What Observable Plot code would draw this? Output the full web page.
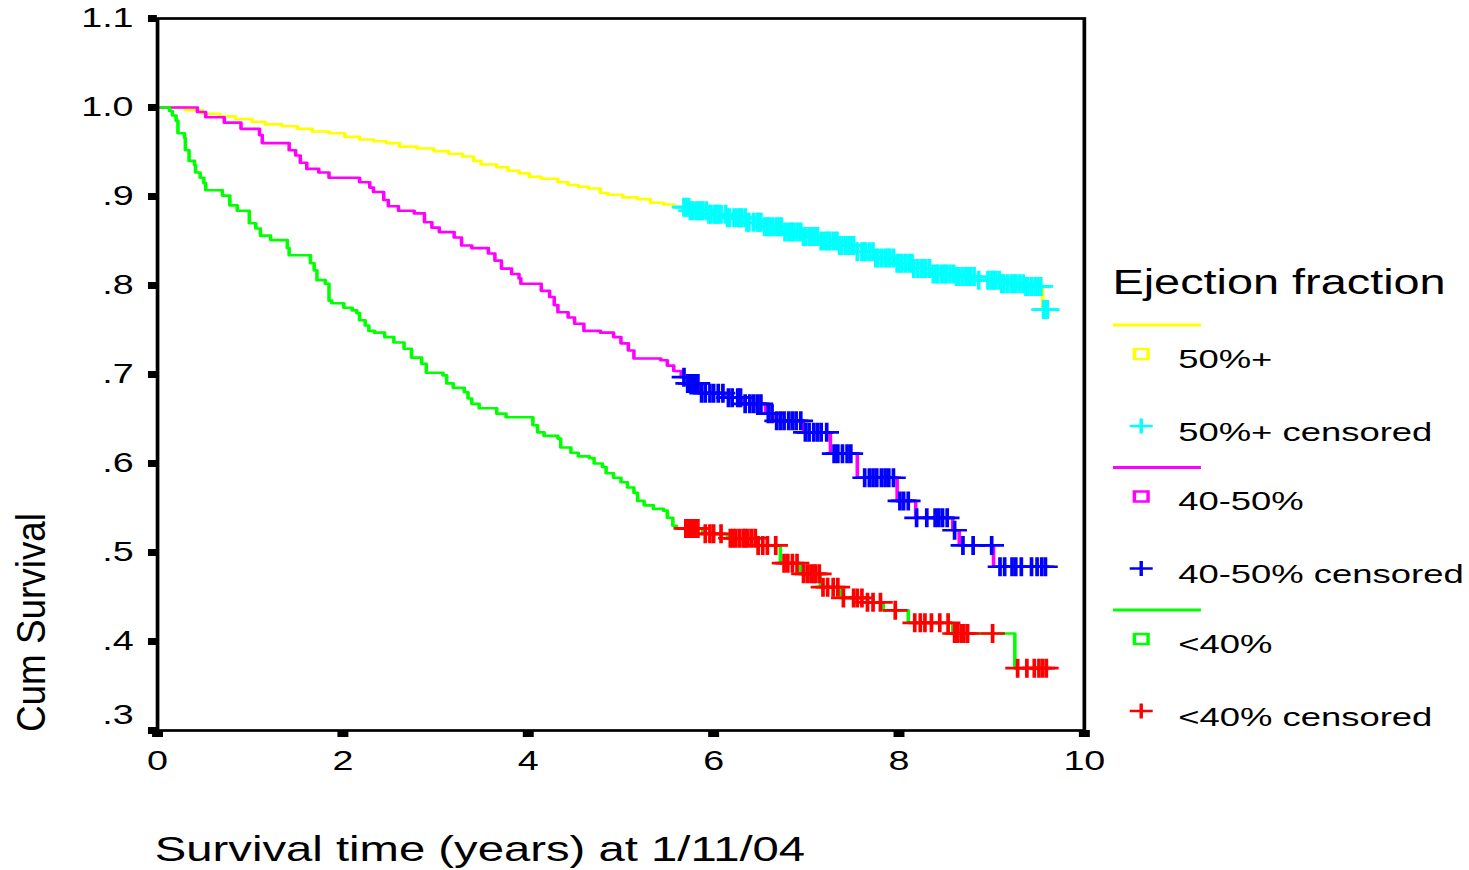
<!DOCTYPE html>
<html>
<head>
<meta charset="utf-8">
<script src="https://cdn.jsdelivr.net/npm/d3@7"></script>
<script src="https://cdn.jsdelivr.net/npm/@observablehq/plot@0.6"></script>
<style>
  html, body { margin: 0; padding: 0; background: #fff; }
  #chart { width: 1469px; height: 870px; overflow: hidden; }
  #chart svg { transform: scaleX(1.37); transform-origin: 0 0; display: block; }
</style>
</head>
<body>
<div id="chart"></div>
<script>
// ---------------- data ----------------
const groups = ["50%+", "40-50%", "<40%"];
const censLabels = ["50%+ censored", "40-50% censored", "<40% censored"];
const lineColors = ["#ffff00", "#ff00ff", "#00ff00"];
const censColors = ["#00ffff", "#0000ff", "#ff0000"];
const legendTitle = "Ejection fraction";
const xTitle = "Survival time (years) at 1/11/04";
const yTitle = "Cum Survival";

const xTicks = [0, 2, 4, 6, 8, 10];
const xTickLabels = ["0", "2", "4", "6", "8", "10"];
const yTicks = [1.1, 1.0, 0.9, 0.8, 0.7, 0.6, 0.5, 0.4, 0.3];
const yTickLabels = ["1.1", "1.0", ".9", ".8", ".7", ".6", ".5", ".4", ".3"];

// Kaplan-Meier step curves: [time (years), cumulative survival]
const curveHigh = [
  [0, 1.0], [0.30, 0.997], [0.48, 0.993], [0.67, 0.990], [0.84, 0.987], [1.02, 0.984],
  [1.16, 0.981], [1.34, 0.979], [1.51, 0.976], [1.67, 0.973], [1.85, 0.971], [2.02, 0.967],
  [2.18, 0.964], [2.33, 0.962], [2.47, 0.960], [2.61, 0.956], [2.80, 0.954], [2.98, 0.951],
  [3.14, 0.948], [3.29, 0.945], [3.41, 0.940], [3.49, 0.936], [3.66, 0.933], [3.78, 0.929],
  [3.90, 0.926], [4.01, 0.922], [4.14, 0.920], [4.32, 0.916], [4.43, 0.913], [4.54, 0.911],
  [4.65, 0.909], [4.78, 0.904], [4.86, 0.902], [5.02, 0.899], [5.18, 0.897], [5.32, 0.893],
  [5.46, 0.891], [5.57, 0.888], [5.75, 0.884], [5.95, 0.880], [6.15, 0.876], [6.35, 0.871],
  [6.55, 0.866], [6.75, 0.860], [6.95, 0.855], [7.15, 0.850], [7.35, 0.845], [7.55, 0.838],
  [7.75, 0.831], [7.95, 0.825], [8.15, 0.819], [8.35, 0.813], [8.60, 0.810], [8.85, 0.806],
  [9.10, 0.802], [9.35, 0.799], [9.55, 0.773], [9.60, 0.773]
];
const curveMid = [
  [0, 1.0], [0.43, 0.995], [0.52, 0.989], [0.72, 0.983], [0.90, 0.976], [1.10, 0.969],
  [1.13, 0.960], [1.42, 0.952], [1.49, 0.946], [1.54, 0.938], [1.61, 0.931], [1.74, 0.927],
  [1.85, 0.921], [2.18, 0.916], [2.29, 0.910], [2.33, 0.905], [2.44, 0.896], [2.49, 0.889],
  [2.60, 0.884], [2.77, 0.881], [2.88, 0.871], [2.96, 0.865], [3.04, 0.860], [3.20, 0.854],
  [3.28, 0.845], [3.39, 0.842], [3.57, 0.836], [3.64, 0.828], [3.71, 0.819], [3.82, 0.813],
  [3.90, 0.808], [3.92, 0.802], [4.14, 0.794], [4.23, 0.787], [4.28, 0.778], [4.32, 0.770],
  [4.43, 0.764], [4.50, 0.757], [4.60, 0.749], [4.78, 0.747], [4.92, 0.742], [5.00, 0.735],
  [5.08, 0.727], [5.14, 0.718], [5.43, 0.716], [5.50, 0.710], [5.57, 0.704], [5.65, 0.697],
  [5.72, 0.690], [5.86, 0.679], [6.12, 0.674], [6.32, 0.667], [6.56, 0.656], [6.65, 0.648],
  [6.97, 0.635], [7.26, 0.611], [7.55, 0.584], [7.98, 0.558], [8.18, 0.539], [8.58, 0.525],
  [8.65, 0.508], [9.02, 0.484], [9.60, 0.484]
];
const curveLow = [
  [0, 1.0], [0.13, 0.996], [0.16, 0.991], [0.20, 0.985], [0.22, 0.971], [0.29, 0.966],
  [0.30, 0.952], [0.34, 0.940], [0.40, 0.935], [0.41, 0.927], [0.46, 0.921], [0.50, 0.915],
  [0.52, 0.907], [0.70, 0.901], [0.78, 0.890], [0.86, 0.884], [0.99, 0.870], [1.06, 0.864],
  [1.11, 0.856], [1.22, 0.851], [1.40, 0.842], [1.42, 0.834], [1.65, 0.825], [1.69, 0.817],
  [1.72, 0.806], [1.81, 0.802], [1.85, 0.783], [1.88, 0.780], [2.01, 0.775], [2.10, 0.772],
  [2.15, 0.769], [2.18, 0.761], [2.24, 0.755], [2.28, 0.749], [2.34, 0.747], [2.45, 0.742],
  [2.55, 0.736], [2.66, 0.729], [2.74, 0.719], [2.85, 0.712], [2.90, 0.702], [3.08, 0.699],
  [3.12, 0.690], [3.19, 0.685], [3.31, 0.680], [3.35, 0.673], [3.39, 0.667], [3.47, 0.662],
  [3.66, 0.656], [3.76, 0.652], [4.05, 0.643], [4.10, 0.635], [4.17, 0.631], [4.32, 0.628],
  [4.35, 0.618], [4.46, 0.612], [4.54, 0.608], [4.66, 0.606], [4.71, 0.600], [4.80, 0.596],
  [4.84, 0.589], [4.92, 0.584], [5.00, 0.579], [5.07, 0.573], [5.14, 0.567], [5.18, 0.558],
  [5.25, 0.553], [5.35, 0.549], [5.46, 0.547], [5.50, 0.539], [5.56, 0.530], [5.60, 0.527],
  [5.88, 0.521], [6.15, 0.516], [6.47, 0.508], [6.72, 0.488], [6.94, 0.476], [7.15, 0.461],
  [7.37, 0.449], [7.66, 0.444], [7.83, 0.435], [8.10, 0.421], [8.58, 0.409], [9.25, 0.370],
  [9.60, 0.370]
];

// censoring times (years)
const censHigh = [
  5.68, 5.70, 5.73, 5.75, 5.77, 5.81, 5.84, 5.86, 5.88, 5.92, 5.95, 5.97, 6.01, 6.03,
  6.05, 6.08, 6.13, 6.15, 6.17, 6.22, 6.25, 6.28, 6.30, 6.34, 6.36, 6.38, 6.43, 6.47, 6.49,
  6.51, 6.55, 6.58, 6.60, 6.64, 6.68, 6.71, 6.73, 6.77, 6.81, 6.84, 6.86, 6.90, 6.94, 6.97,
  6.99, 7.03, 7.07, 7.10, 7.12, 7.16, 7.20, 7.23, 7.25, 7.29, 7.33, 7.36, 7.38, 7.42, 7.46,
  7.49, 7.51, 7.55, 7.60, 7.62, 7.64, 7.68, 7.72, 7.75, 7.77, 7.81, 7.85, 7.88, 7.90, 7.94,
  7.98, 8.01, 8.03, 8.07, 8.11, 8.14, 8.16, 8.20, 8.24, 8.27, 8.29, 8.33, 8.37, 8.40, 8.42,
  8.46, 8.49, 8.51, 8.55, 8.59, 8.62, 8.64, 8.68, 8.72, 8.75, 8.77, 8.81, 8.86, 8.96, 9.00,
  9.02, 9.04, 9.08, 9.11, 9.13, 9.17, 9.21, 9.24, 9.26, 9.30, 9.34, 9.37, 9.39, 9.43, 9.47,
  9.49, 9.51, 9.53, 9.56, 9.58, 9.60
];
const censMid = [
  5.68, 5.72, 5.75, 5.78, 5.80, 5.83, 5.87, 5.91, 5.96, 6.00, 6.05, 6.10, 6.16, 6.20, 6.26,
  6.29, 6.34, 6.39, 6.43, 6.47, 6.51, 6.59, 6.63, 6.68, 6.72, 6.76, 6.81, 6.85, 6.89, 6.94,
  6.99, 7.03, 7.08, 7.12, 7.16, 7.22, 7.30, 7.34, 7.39, 7.44, 7.48, 7.63, 7.68, 7.72, 7.76,
  7.81, 7.85, 7.89, 7.94, 8.01, 8.05, 8.10, 8.19, 8.30, 8.39, 8.43, 8.47, 8.52, 8.60, 8.69,
  8.80, 9.00, 9.09, 9.14, 9.22, 9.26, 9.32, 9.43, 9.49, 9.54, 9.58
];
const censLow = [
  5.70, 5.73, 5.75, 5.78, 5.80, 5.83, 5.91, 5.96, 6.00, 6.08, 6.18, 6.21, 6.24,
  6.28, 6.32, 6.34, 6.37, 6.41, 6.45, 6.48, 6.53, 6.58, 6.67, 6.76, 6.80, 6.85, 6.90, 6.97,
  7.01, 7.05, 7.08, 7.10, 7.14, 7.18, 7.23, 7.29, 7.34, 7.40, 7.51, 7.55, 7.60, 7.66, 7.72,
  7.80, 7.96, 8.17, 8.23, 8.28, 8.35, 8.44, 8.53, 8.60, 8.63, 8.67, 8.70, 8.74, 9.01, 9.28,
  9.38, 9.46, 9.51, 9.55, 9.59
];

// ---------------- build ----------------
const curves = [curveHigh, curveMid, curveLow];
const censTimes = [censHigh, censMid, censLow];

// survival value of a KM step curve at time t
function survAt(curve, t) {
  let s = curve[0][1];
  for (const [ct, cs] of curve) { if (ct <= t) s = cs; else break; }
  return s;
}

const censRows = censTimes.map((times, i) => times.map(t => ({t, s: survAt(curves[i], t)})));

const plusSymbol = {
  draw(ctx) {
    ctx.moveTo(-9, 0); ctx.lineTo(9, 0);
    ctx.moveTo(0, -9.5); ctx.lineTo(0, 9.5);
  }
};

const W = 1072, H = 870;
const FONT = "'Liberation Sans', Arial, Helvetica, sans-serif";

const marks = [];
curves.forEach((c, i) => {
  marks.push(Plot.line(c, {x: d => d[0], y: d => d[1], stroke: lineColors[i], strokeWidth: 2.6, curve: "step-after"}));
});
censRows.forEach((rows, i) => {
  marks.push(Plot.dot(rows, {x: "t", y: "s", symbol: plusSymbol, stroke: censColors[i], fill: "none", strokeWidth: 2.7}));
});
marks.push(Plot.frame({stroke: "black", strokeWidth: 2.7}));
marks.push(Plot.axisY(yTicks, {
  tickSize: 6.5, tickPadding: 11, strokeWidth: 7, fontSize: 27.5, label: null,
  tickFormat: d => (d === 0.3 ? "" : yTickLabels[yTicks.indexOf(d)])
}));
marks.push(Plot.axisY([0.3], {
  tickSize: 0, tickPadding: 17.5, fontSize: 27.5, dy: -15, label: null,
  tickFormat: d => yTickLabels[yTicks.indexOf(d)]
}));
marks.push(Plot.axisX(xTicks, {
  tickSize: 7, tickPadding: 13, strokeWidth: 8, fontSize: 27.5, label: null,
  tickFormat: d => xTickLabels[xTicks.indexOf(d)]
}));

const plot = Plot.plot({
  width: W, height: H,
  marginLeft: 114.5, marginRight: 281, marginTop: 18, marginBottom: 140,
  x: {domain: [0, 10], label: null},
  y: {domain: [0.3, 1.1], label: null},
  style: {fontFamily: FONT, color: "black", background: "white", overflow: "visible"},
  marks
});

const svg = d3.select(plot);

// axis titles
svg.append("text")
  .attr("x", 113).attr("y", 861).attr("text-anchor", "start")
  .attr("font-family", FONT).attr("font-size", 34.5).attr("fill", "black")
  .text(xTitle);
svg.append("text")
  .attr("transform", "translate(33,732) rotate(-90)").attr("text-anchor", "start")
  .attr("font-family", FONT).attr("font-size", 30).attr("fill", "black")
  .attr("textLength", 219).attr("lengthAdjust", "spacingAndGlyphs")
  .text(yTitle);

// legend
const lg = svg.append("g").attr("font-family", FONT).attr("fill", "black").attr("text-anchor", "start");
lg.append("text").attr("x", 812).attr("y", 294).attr("font-size", 34.2).text(legendTitle);
groups.forEach((g, i) => {
  const y0 = 325 + i * 142.5;
  lg.append("line").attr("x1", 812.4).attr("x2", 876.6).attr("y1", y0).attr("y2", y0)
    .attr("stroke", lineColors[i]).attr("stroke-width", 3);
  const ys = y0 + 29;
  lg.append("rect").attr("x", 828).attr("y", ys - 5).attr("width", 10).attr("height", 10)
    .attr("fill", "none").attr("stroke", lineColors[i]).attr("stroke-width", 2.5);
  lg.append("text").attr("x", 860).attr("y", ys + 14).attr("font-size", 26.6).text(g);
  const yc = y0 + 101;
  lg.append("path").attr("d", `M${833 - 8.4},${yc}H${833 + 8.4}M833,${yc - 7.5}V${yc + 7.5}`)
    .attr("stroke", censColors[i]).attr("stroke-width", 2.5).attr("fill", "none");
  lg.append("text").attr("x", 860).attr("y", yc + 15).attr("font-size", 26.6).text(censLabels[i]);
});

document.getElementById("chart").appendChild(plot);
</script>
</body>
</html>
